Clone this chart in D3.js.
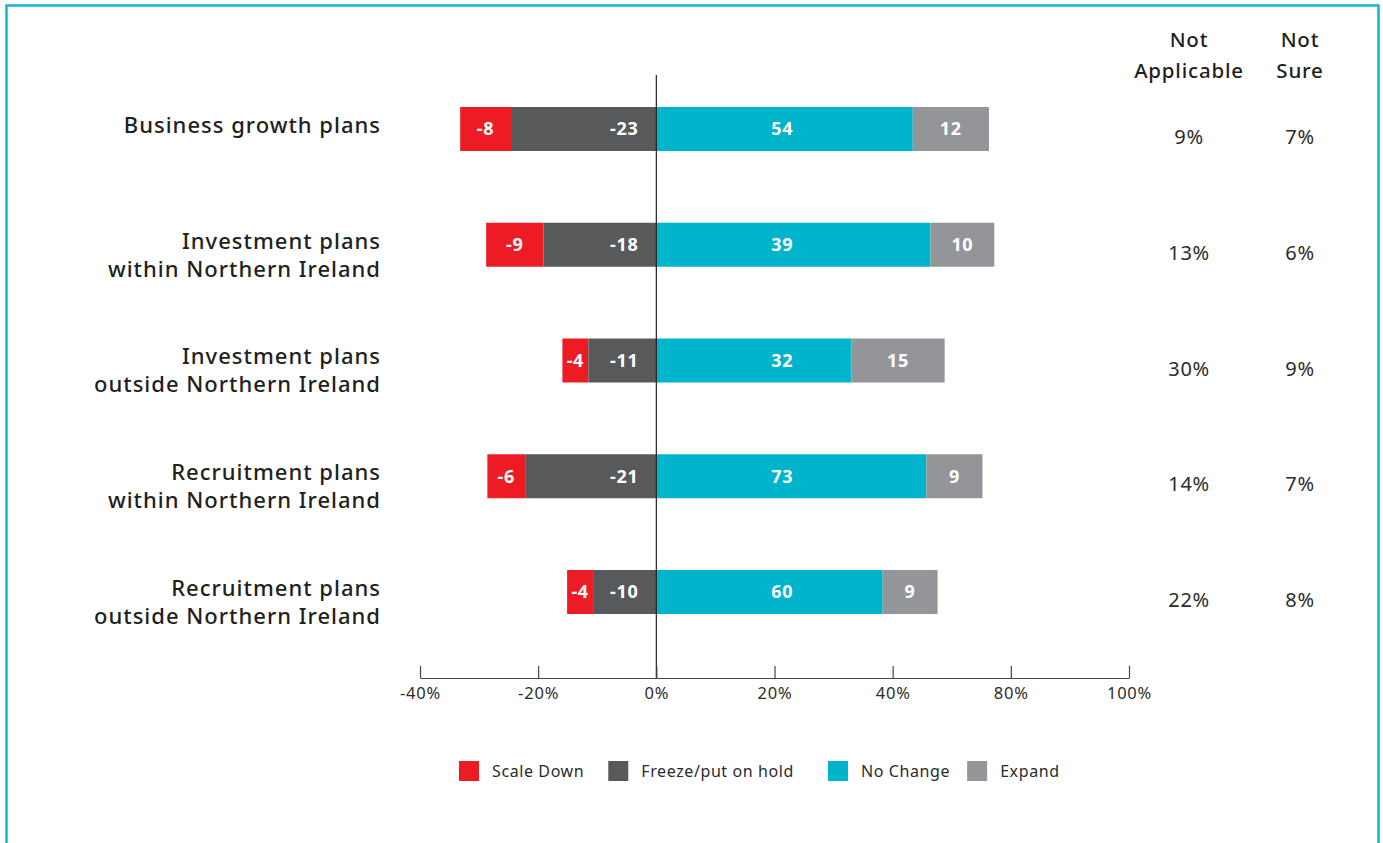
<!DOCTYPE html>
<html>
<head>
<meta charset="utf-8">
<script src="https://cdn.jsdelivr.net/npm/d3@7"></script>
<style>
body { margin: 0; background: #fff; }
svg text { font-family: "Noto Sans", sans-serif; }
</style>
</head>
<body>
<script>
// rows, top to bottom
var categories = [
  ["Business growth plans"],
  ["Investment plans", "within Northern Ireland"],
  ["Investment plans", "outside Northern Ireland"],
  ["Recruitment plans", "within Northern Ireland"],
  ["Recruitment plans", "outside Northern Ireland"]
]

// printed values on the bars
var scaleDownLbl = [-8, -9, -4, -6, -4]
var freezeLbl = [-23, -18, -11, -21, -10]
var noChangeLbl = [54, 39, 32, 73, 60]
var expandLbl = [12, 10, 15, 9, 9]

// bar lengths as drawn, read against the axis (%)
var scaleDown = [8.6, 9.7, 4.4, 6.4, 4.4]
var freeze = [24.6, 19.1, 11.5, 22.2, 10.7]
var noChange = [43.4, 46.4, 33.0, 45.7, 38.3]
var expand = [12.9, 10.8, 15.8, 9.5, 9.3]

var notApplicable = ["9%", "13%", "30%", "14%", "22%"]
var notSure = ["7%", "6%", "9%", "7%", "8%"]

var tickValues = [-40, -20, 0, 20, 40, 60, 80]
var tickLabels = ["-40%", "-20%", "0%", "20%", "40%", "80%", "100%"]

var legendNames = ["Scale Down", "Freeze/put on hold", "No Change", "Expand"]
var colors = ["#ed1c24", "#58595b", "#00b4cb", "#939598"]

var width = 1383, height = 843
var ink = "#231f20"

var svg = d3.select("body").append("svg")
  .attr("width", width)
  .attr("height", height)

// frame
svg.append("rect")
  .attr("x", 6.5).attr("y", 5.5)
  .attr("width", 1372).attr("height", 860)
  .attr("fill", "none")
  .attr("stroke", "#12b5cf")
  .attr("stroke-width", 2.5)

var x = d3.scaleLinear().domain([-40, 80]).range([420, 1129])
var y = d3.scalePoint().domain(d3.range(categories.length)).range([129, 592])
var barH = 44
var axisY = 678

var rows = categories.map(function(c, i) {
  var s = [
    {x0: -freeze[i] - scaleDown[i], x1: -freeze[i], c: colors[0], lbl: scaleDownLbl[i], pos: "mid"},
    {x0: -freeze[i], x1: 0, c: colors[1], lbl: freezeLbl[i], pos: "freeze"},
    {x0: 0, x1: noChange[i], c: colors[2], lbl: noChangeLbl[i], pos: "nochange"},
    {x0: noChange[i], x1: noChange[i] + expand[i], c: colors[3], lbl: expandLbl[i], pos: "mid"}
  ]
  s.forEach(function(d) { d.row = i })
  return s
})
var segs = d3.merge(rows)

svg.selectAll("rect.seg")
  .data(segs)
  .enter()
  .append("rect")
  .attr("class", "seg")
  .attr("x", function(d) { return x(d.x0) })
  .attr("width", function(d) { return x(d.x1) - x(d.x0) })
  .attr("y", function(d) { return y(d.row) - barH / 2 })
  .attr("height", barH)
  .attr("fill", function(d) { return d.c })

svg.selectAll("text.seg")
  .data(segs)
  .enter()
  .append("text")
  .attr("class", "seg")
  .attr("x", function(d) {
    if (d.pos == "freeze") return x(0) - 32
    if (d.pos == "nochange") return x(0) + 126
    return (x(d.x0) + x(d.x1)) / 2
  })
  .attr("y", function(d) { return y(d.row) })
  .attr("dy", "0.36em")
  .attr("text-anchor", "middle")
  .attr("fill", "#fff")
  .attr("font-size", 18)
  .attr("letter-spacing", 0.7)
  .attr("font-weight", "bold")
  .text(function(d) { return d.lbl })

// zero line
svg.append("line")
  .attr("x1", x(0)).attr("x2", x(0))
  .attr("y1", 75).attr("y2", axisY)
  .attr("stroke", ink)
  .attr("stroke-width", 1.2)

// axis
var axis = svg.append("g")
  .attr("transform", "translate(0," + axisY + ")")
  .call(d3.axisBottom(x)
    .tickValues(tickValues)
    .tickSizeInner(-12)
    .tickSizeOuter(0)
    .tickPadding(9)
    .tickFormat(function(d, i) { return tickLabels[i] }))
axis.selectAll("path, line").attr("stroke", "#444").attr("stroke-width", 1.2)
axis.selectAll("text")
  .attr("font-size", 16.5)
  .attr("letter-spacing", 0.8)
  .attr("fill", "#2b2b2b")
  .style("font-family", '"Noto Sans", sans-serif')

// category labels
var cat = svg.selectAll("text.cat")
  .data(categories)
  .enter()
  .append("text")
  .attr("class", "cat")
  .attr("text-anchor", "end")
  .attr("fill", ink)
  .attr("font-size", 22)
  .attr("letter-spacing", 1)
  .attr("font-weight", 500)
cat.selectAll("tspan")
  .data(function(d, i) { return d.map(function(t, j) { return {t: t, j: j, i: i} }) })
  .enter()
  .append("tspan")
  .attr("x", 381)
  .attr("y", function(d) { return y(d.i) - 4 + d.j * 28 })
  .attr("dy", "0.36em")
  .text(function(d) { return d.t })

// right-hand columns
var cols = [
  {head: ["Not", "Applicable"], vals: notApplicable, cx: 1189},
  {head: ["Not", "Sure"], vals: notSure, cx: 1300}
]
cols.forEach(function(col) {
  svg.selectAll(null)
    .data(col.head)
    .enter()
    .append("text")
    .attr("x", col.cx)
    .attr("y", function(d, i) { return 40 + i * 31 })
    .attr("dy", "0.36em")
    .attr("text-anchor", "middle")
    .attr("fill", ink)
    .attr("font-size", 20.5)
    .attr("letter-spacing", 0.8)
    .attr("font-weight", 500)
    .text(function(d) { return d })

  svg.selectAll(null)
    .data(col.vals)
    .enter()
    .append("text")
    .attr("x", col.cx)
    .attr("y", function(d, i) { return y(i) + 8 })
    .attr("dy", "0.36em")
    .attr("text-anchor", "middle")
    .attr("fill", "#2b2b2b")
    .attr("font-size", 20)
    .attr("letter-spacing", 0.6)
    .text(function(d) { return d })
})

// legend
var legend = svg.append("g").attr("class", "legend")
var items = legend.selectAll("g")
  .data(legendNames)
  .enter()
  .append("g")
items.append("rect")
  .attr("width", 20).attr("height", 20)
  .attr("y", 761)
  .attr("fill", function(d, i) { return colors[i] })
items.append("text")
  .attr("x", 33)
  .attr("y", 771)
  .attr("dy", "0.36em")
  .attr("font-size", 16)
  .attr("letter-spacing", 0.6)
  .attr("fill", "#2b2b2b")
  .text(function(d) { return d })

var gaps = [24, 34, 17]
var pos = 459
items.each(function(d, i) {
  var g = d3.select(this)
  g.attr("transform", "translate(" + pos + ",0)")
  pos += 33 + g.select("text").node().getComputedTextLength() + (gaps[i] || 0)
})
</script>
</body>
</html>
